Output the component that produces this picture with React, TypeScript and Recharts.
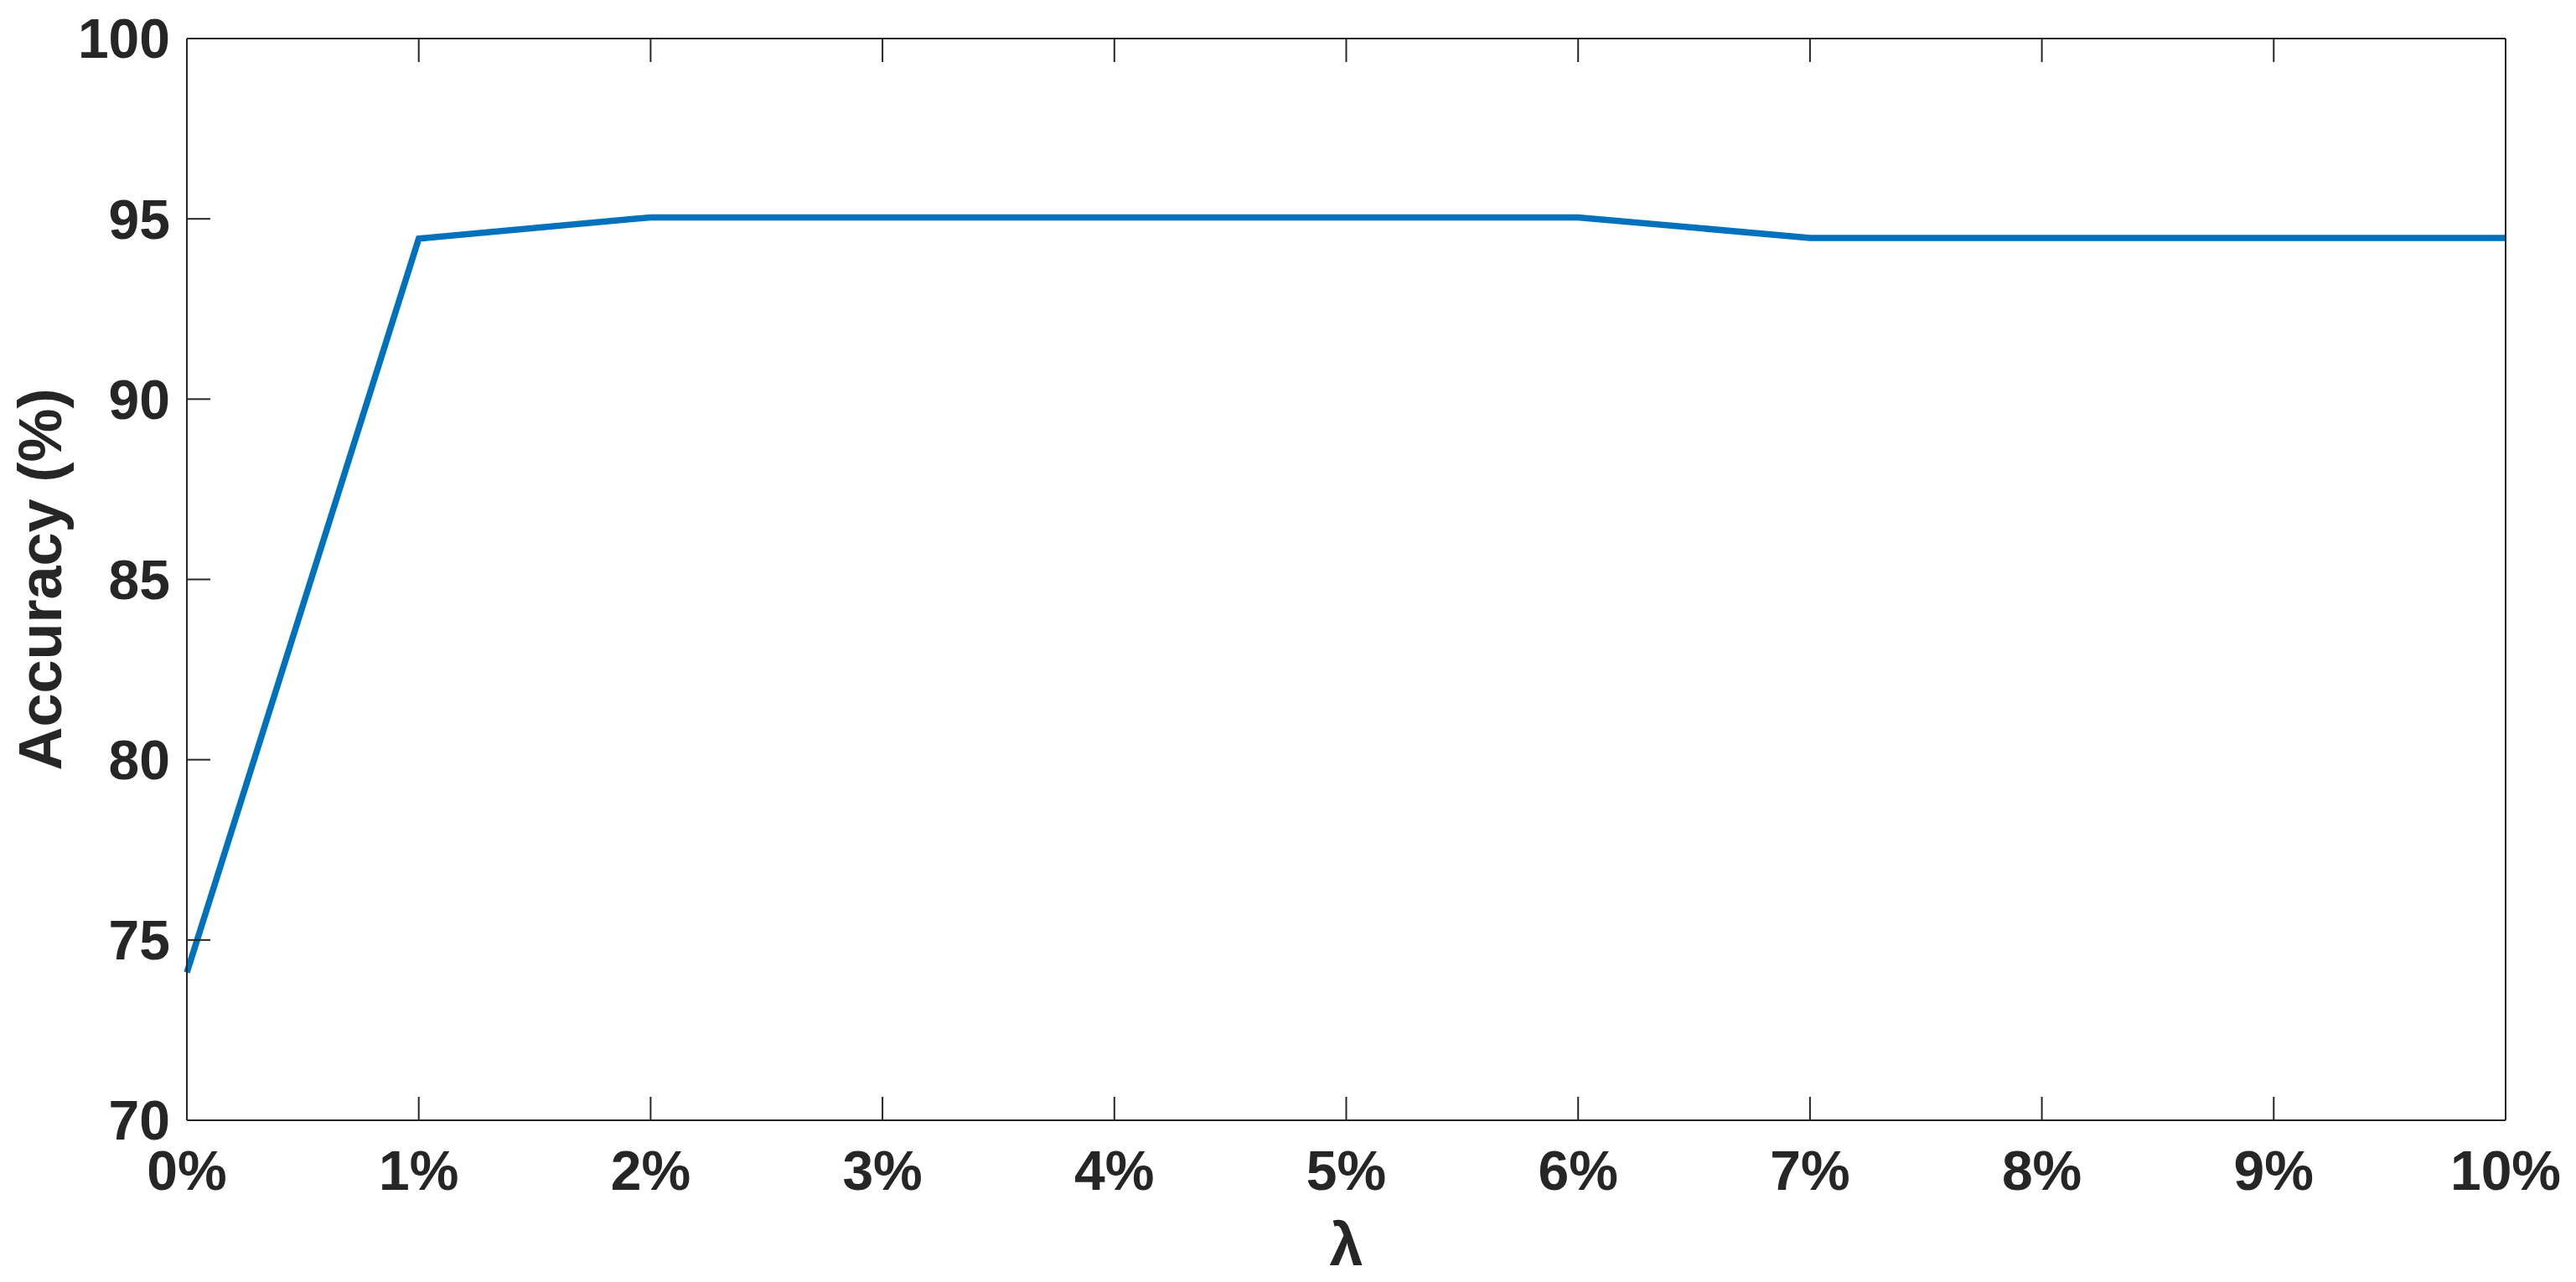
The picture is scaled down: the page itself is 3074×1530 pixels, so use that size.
import { LineChart, Line, XAxis, YAxis, Text } from "recharts"

// lambda values (%) and measured accuracy
const lambdas = [0, 1, 2, 3, 4, 5, 6, 7, 8, 9, 10]
const accuracy = [74.1, 94.45, 95.04, 95.04, 95.04, 95.04, 95.04, 94.47, 94.47, 94.47, 94.47]
const xTicks = [0, 1, 2, 3, 4, 5, 6, 7, 8, 9, 10]
const yTicks = [70, 75, 80, 85, 90, 95, 100]

const INK = "#262626"
const FONT = "'Liberation Sans', Arial, Helvetica, sans-serif"

const tickStyle = { fontSize: 66, fontWeight: 700, fill: INK, fontFamily: FONT }
const noLabel = () => ""

export default function App() {
  const data = lambdas.map((x, i) => ({ x, acc: accuracy[i] }))

  return (
    <div style={{ position: "absolute", left: 0, top: 0, background: "#fff" }}>
      <LineChart width={3074} height={1530} data={data} margin={{ top: 16, right: 0, left: 0, bottom: 0 }}>
        <XAxis
          xAxisId="bottom"
          dataKey="x"
          type="number"
          domain={[0, 10]}
          ticks={xTicks}
          interval={0}
          tickFormatter={(v) => `${v}%`}
          height={193}
          tickSize={-28}
          tickMargin={64}
          tick={tickStyle}
          axisLine={{ stroke: INK, strokeWidth: 2 }}
          tickLine={{ stroke: INK, strokeWidth: 2 }}
          label={{
            value: "λ",
            content: (props: any) => {
              const vb = props.viewBox
              return (
                <Text
                  x={vb.x + vb.width / 2}
                  y={vb.y + 173}
                  textAnchor="middle"
                  verticalAnchor="end"
                  style={{ fontSize: 72, fontWeight: 700, fill: INK, fontFamily: FONT }}
                >
                  λ
                </Text>
              )
            },
          }}
        />
        {/* mirrored ticks on top and right, no labels */}
        <XAxis
          xAxisId="top"
          orientation="top"
          dataKey="x"
          type="number"
          domain={[0, 10]}
          ticks={xTicks}
          interval={0}
          height={30}
          tickFormatter={noLabel}
          tickSize={-28}
          axisLine={{ stroke: INK, strokeWidth: 2 }}
          tickLine={{ stroke: INK, strokeWidth: 2 }}
        />
        <YAxis
          yAxisId="left"
          type="number"
          domain={[70, 100]}
          ticks={yTicks}
          interval={0}
          width={223}
          tickSize={-28}
          tickMargin={48}
          tick={tickStyle}
          axisLine={{ stroke: INK, strokeWidth: 2 }}
          tickLine={{ stroke: INK, strokeWidth: 2 }}
          label={{
            value: "Accuracy (%)",
            content: (props: any) => {
              const vb = props.viewBox
              return (
                <Text
                  x={vb.x + 73}
                  y={vb.y + vb.height / 2}
                  angle={-90}
                  textAnchor="middle"
                  verticalAnchor="end"
                  style={{ fontSize: 72, fontWeight: 700, fill: INK, fontFamily: FONT }}
                >
                  Accuracy (%)
                </Text>
              )
            },
          }}
        />
        <YAxis
          yAxisId="right"
          orientation="right"
          type="number"
          domain={[70, 100]}
          ticks={yTicks}
          interval={0}
          width={84}
          tickFormatter={noLabel}
          tickSize={-28}
          axisLine={{ stroke: INK, strokeWidth: 2 }}
          tickLine={{ stroke: INK, strokeWidth: 2 }}
        />
        <Line
          xAxisId="bottom"
          yAxisId="left"
          type="linear"
          dataKey="acc"
          stroke="#0072BD"
          strokeWidth={7.5}
          dot={false}
          activeDot={false}
          isAnimationActive={false}
        />
      </LineChart>
    </div>
  )
}
